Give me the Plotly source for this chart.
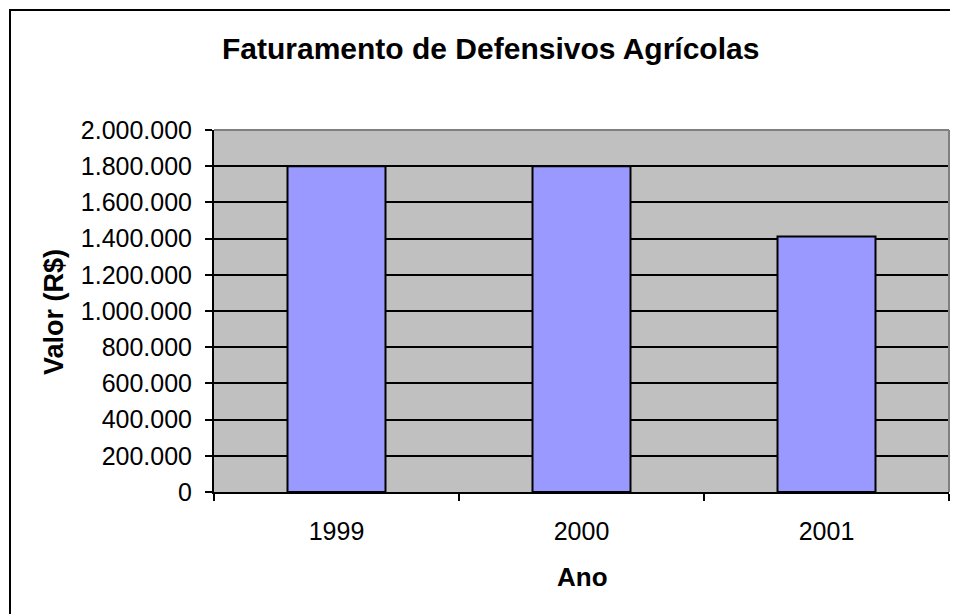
import plotly.graph_objects as go

anos = ["1999", "2000", "2001"]
valores = [1800000, 1800000, 1412000]
y_ticks = list(range(0, 2000001, 200000))

FONT = "Liberation Sans, Arial, sans-serif"

fig = go.Figure()
fig.add_trace(go.Bar(
    x=anos, y=valores,
    marker=dict(color="#9999FF", line=dict(color="black", width=2)),
))

OFF = 8  # page body margin
W, H = 958, 614
L, T = 214 - OFF, 130 - OFF
R = W - (949 - OFF)
B = H - (492 - OFF)
pw = W - L - R
ph = H - T - B

fig.update_layout(
    width=W, height=H,
    margin=dict(l=L, r=R, t=T, b=B, pad=0),
    paper_bgcolor="white",
    plot_bgcolor="#C0C0C0",
    separators=",.",
    bargap=0.6,
    showlegend=False,
    font=dict(family=FONT, color="black", size=25),
)
fig.update_xaxes(
    type="category",
    showline=True, linecolor="black", linewidth=2,
    ticks="outside", ticklen=7, tickwidth=2, tickcolor="black",
    tickson="boundaries",
    showgrid=False,
    tickfont=dict(size=25, family=FONT, color="black"),
    ticklabelstandoff=16,
)
fig.update_yaxes(
    range=[0, 2000000],
    tickvals=y_ticks,
    tickformat=",d",
    showline=True, linecolor="black", linewidth=2,
    ticks="outside", ticklen=7, tickwidth=2, tickcolor="black",
    showgrid=True, gridcolor="black", gridwidth=2,
    zeroline=False,
    tickfont=dict(size=25, family=FONT, color="black"),
    ticklabelstandoff=8,
)

def px(x):
    return (x - OFF - L) / pw

def py(y):
    return (H - B - (y - OFF)) / ph

# plot-area top/right border (gray)
fig.add_shape(type="line", xref="paper", yref="paper", x0=0, x1=1, y0=1, y1=1,
              line=dict(color="#808080", width=2))
fig.add_shape(type="line", xref="paper", yref="paper", x0=1, x1=1, y0=0, y1=1,
              line=dict(color="#808080", width=2))
# outer chart border
fig.add_shape(type="rect", xref="paper", yref="paper",
              x0=px(10), x1=px(1000), y0=py(700), y1=py(10),
              line=dict(color="black", width=2))

fig.add_annotation(text="<b>Faturamento de Defensivos Agrícolas</b>", xref="paper", yref="paper",
                   x=px(490), y=py(48), showarrow=False, xanchor="center", yanchor="middle",
                   font=dict(size=30, family=FONT, color="black"))
fig.add_annotation(text="<b>Valor (R$)</b>", xref="paper", yref="paper",
                   x=px(54), y=py(312), showarrow=False, xanchor="center", yanchor="middle",
                   textangle=-90, font=dict(size=27, family=FONT, color="black"))
fig.add_annotation(text="<b>Ano</b>", xref="paper", yref="paper",
                   x=px(582), y=py(577), showarrow=False, xanchor="center", yanchor="middle",
                   font=dict(size=26, family=FONT, color="black"))

fig.write_html("out.html")
